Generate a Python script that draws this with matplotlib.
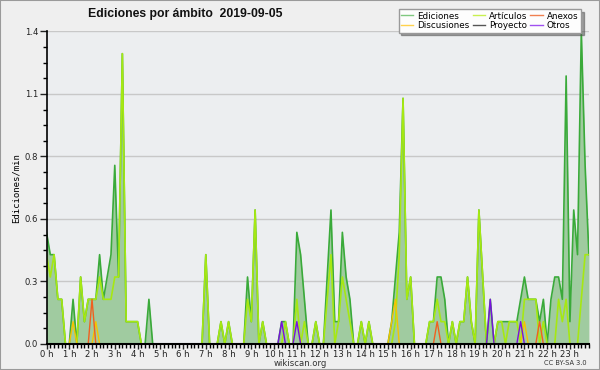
import numpy as np
import matplotlib
matplotlib.use("Agg")
import matplotlib.pyplot as plt
from matplotlib.lines import Line2D
from matplotlib.patches import Rectangle
from matplotlib.ticker import MultipleLocator, FixedLocator

# edits per minute, 10-minute slots, one row per hour
ediciones = [
    0.5, 0.4, 0.4, 0.2, 0.2, 0.0,
    0.0, 0.2, 0.0, 0.3, 0.1, 0.2,
    0.2, 0.2, 0.4, 0.2, 0.3, 0.4,
    0.8, 0.3, 1.3, 0.1, 0.1, 0.1,
    0.1, 0.0, 0.0, 0.2, 0.0, 0.0,
    0.0, 0.0, 0.0, 0.0, 0.0, 0.0,
    0.0, 0.0, 0.0, 0.0, 0.0, 0.0,
    0.4, 0.0, 0.0, 0.0, 0.1, 0.0,
    0.1, 0.0, 0.0, 0.0, 0.0, 0.3,
    0.1, 0.6, 0.0, 0.1, 0.0, 0.0,
    0.0, 0.0, 0.1, 0.1, 0.0, 0.0,
    0.5, 0.4, 0.2, 0.0, 0.0, 0.1,
    0.0, 0.0, 0.3, 0.6, 0.1, 0.1,
    0.5, 0.3, 0.2, 0.0, 0.0, 0.1,
    0.0, 0.1, 0.0, 0.0, 0.0, 0.0,
    0.0, 0.1, 0.3, 0.5, 1.1, 0.2,
    0.3, 0.0, 0.0, 0.0, 0.0, 0.1,
    0.1, 0.3, 0.3, 0.2, 0.0, 0.1,
    0.0, 0.1, 0.1, 0.3, 0.1, 0.0,
    0.6, 0.3, 0.0, 0.2, 0.0, 0.1,
    0.1, 0.1, 0.1, 0.1, 0.1, 0.2,
    0.3, 0.2, 0.2, 0.2, 0.1, 0.2,
    0.0, 0.2, 0.3, 0.3, 0.2, 1.2,
    0.1, 0.6, 0.4, 1.4, 0.8, 0.4,
]

articulos = [
    0.4, 0.3, 0.4, 0.2, 0.2, 0.0,
    0.0, 0.0, 0.0, 0.3, 0.1, 0.2,
    0.2, 0.2, 0.3, 0.2, 0.2, 0.2,
    0.3, 0.3, 1.3, 0.1, 0.1, 0.1,
    0.1, 0.0, 0.0, 0.0, 0.0, 0.0,
    0.0, 0.0, 0.0, 0.0, 0.0, 0.0,
    0.0, 0.0, 0.0, 0.0, 0.0, 0.0,
    0.4, 0.0, 0.0, 0.0, 0.1, 0.0,
    0.1, 0.0, 0.0, 0.0, 0.0, 0.2,
    0.1, 0.6, 0.0, 0.1, 0.0, 0.0,
    0.0, 0.0, 0.0, 0.1, 0.0, 0.0,
    0.2, 0.0, 0.1, 0.0, 0.0, 0.1,
    0.0, 0.0, 0.2, 0.4, 0.0, 0.1,
    0.3, 0.2, 0.1, 0.0, 0.0, 0.1,
    0.0, 0.1, 0.0, 0.0, 0.0, 0.0,
    0.0, 0.0, 0.1, 0.4, 1.1, 0.2,
    0.3, 0.0, 0.0, 0.0, 0.0, 0.1,
    0.1, 0.2, 0.1, 0.1, 0.0, 0.1,
    0.0, 0.1, 0.1, 0.3, 0.1, 0.0,
    0.6, 0.3, 0.0, 0.0, 0.0, 0.1,
    0.1, 0.0, 0.1, 0.1, 0.1, 0.0,
    0.2, 0.2, 0.2, 0.2, 0.0, 0.1,
    0.0, 0.0, 0.0, 0.2, 0.1, 0.2,
    0.0, 0.0, 0.0, 0.2, 0.4, 0.4,
]

# sparse series: slot index -> edits/min
discusiones = {7: 0.1, 13: 0.1, 91: 0.1, 92: 0.2, 126: 0.1}
anexos = {12: 0.2, 103: 0.1, 130: 0.1}
otros = {62: 0.1, 66: 0.1, 117: 0.2, 125: 0.1}
proyecto = {}

hour_labels = [f"{h} h" for h in range(24)]
y_ticks = [0.0, 0.28, 0.56, 0.84, 1.12, 1.4]
y_labels = ["0.0", "0.3", "0.6", "0.8", "1.1", "1.4"]

n = len(ediciones)
x = np.arange(n) / 6.0


def expand(sparse):
    arr = np.zeros(n)
    for k, v in sparse.items():
        arr[k] = v
    return arr


fig = plt.figure(figsize=(6.0, 3.7), dpi=100, facecolor="#efefef")
ax = fig.add_axes([0.0775, 0.0703, 0.904, 0.845])
ax.set_facecolor("#eceef0")

ax.fill_between(x, ediciones, color="#a0cba0", lw=0, zorder=2)
ax.plot(x, ediciones, color="#3aaa3a", lw=1.2, zorder=3)
ax.plot(x, expand(proyecto), color="#444444", lw=1.0, zorder=3)
ax.plot(x, articulos, color="#a6e812", lw=1.2, zorder=4)
ax.plot(x, expand(discusiones), color="#f5c400", lw=1.0, zorder=5)
ax.plot(x, expand(anexos), color="#f06020", lw=1.0, zorder=5)
ax.plot(x, expand(otros), color="#7a10e0", lw=1.0, zorder=5)

ax.set_xlim(0, x[-1])
ax.set_ylim(0, 1.4)
ax.yaxis.set_major_locator(FixedLocator(y_ticks))
ax.set_yticklabels(y_labels)
ax.yaxis.set_minor_locator(MultipleLocator(0.07))
ax.set_xticks(np.arange(24))
ax.set_xticklabels(hour_labels)
ax.xaxis.set_minor_locator(MultipleLocator(1 / 6))
ax.grid(axis="y", color="#c8c8c8", lw=1.0, zorder=1)
ax.set_axisbelow(True)

for s in ["top", "right"]:
    ax.spines[s].set_visible(False)
ax.spines["left"].set_linewidth(1.2)
ax.spines["bottom"].set_linewidth(1.5)
ax.spines["left"].set_zorder(6)
ax.spines["bottom"].set_zorder(6)
ax.tick_params(axis="both", which="major", labelsize=6.1, colors="#222222", pad=0.5)
ax.tick_params(axis="y", which="major", length=5, width=1, pad=1)
ax.tick_params(axis="y", which="minor", length=3, width=1)
ax.tick_params(axis="x", which="major", length=3.5, width=1)
ax.tick_params(axis="x", which="minor", length=3, width=1)

ax.set_ylabel("Ediciones/min", family="DejaVu Sans Mono", fontsize=6.5, labelpad=3)

fig.text(0.147, 0.962, "Ediciones por ámbito  2019-09-05", fontsize=8.8,
         family="Liberation Sans", fontweight="bold", ha="left", va="center",
         color="#111111")
fig.text(0.5, 0.017, "wikiscan.org", fontsize=6.1, ha="center", va="center", color="#333333")
fig.text(0.978, 0.018, "CC BY-SA 3.0", fontsize=4.8, ha="right", va="center", color="#333333")

handles = [
    Line2D([], [], color="#80c880", lw=1),
    Line2D([], [], color="#ffd24d", lw=1),
    Line2D([], [], color="#c8f050", lw=1),
    Line2D([], [], color="#555555", lw=1),
    Line2D([], [], color="#f08050", lw=1),
    Line2D([], [], color="#a050f0", lw=1),
]
names = ["Ediciones", "Discusiones", "Artículos", "Proyecto", "Anexos", "Otros"]
leg = fig.legend(handles, names, ncol=3, loc="upper right", bbox_to_anchor=(0.968, 0.976),
                 fontsize=6.3, handlelength=1.4, handletextpad=0.45, columnspacing=0.35,
                 labelspacing=0.05, borderpad=0.3, borderaxespad=0.0, fancybox=False,
                 shadow=True, framealpha=1, edgecolor="#999999", facecolor="#fdfdfd")

fig.patches.append(Rectangle((0, 0), 1, 1, transform=fig.transFigure, fill=False,
                             edgecolor="#9a9a9a", lw=1.5))

fig.savefig("out.png", dpi=100, facecolor=fig.get_facecolor())
